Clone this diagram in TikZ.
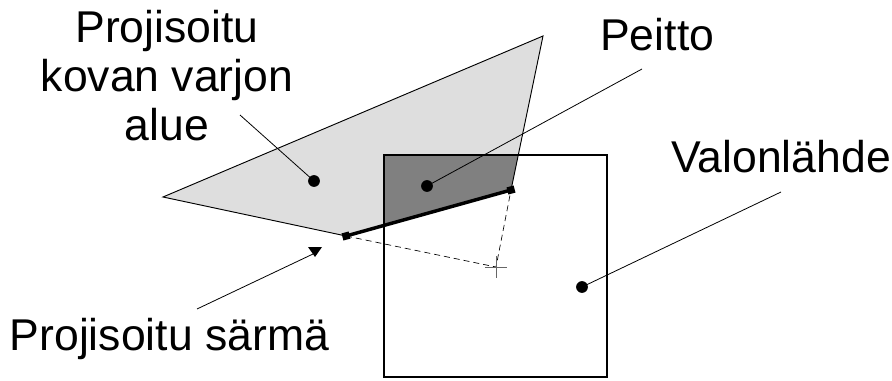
\documentclass[tikz,border=0pt]{standalone}
\usepackage{fontspec}
\setmainfont{Liberation Sans}
\usetikzlibrary{arrows.meta,positioning}

\begin{document}
\begin{tikzpicture}[x=0.75pt,y=-0.75pt,line join=miter,
  txt/.style={font=\fontsize{33.4}{37.1}\selectfont,inner sep=0pt},
  leader/.style={line width=.6pt},
  spot/.style={circle,fill=black,inner sep=0pt,minimum size=8.8pt},
  endmark/.style={rectangle,fill=black,inner sep=0pt,minimum size=5.5pt,rotate=15.6}]
\path[use as bounding box] (0,0) rectangle (892,381);
% projected hard shadow area
\coordinate (sL) at (163,197);
\coordinate (sT) at (543,36);
\coordinate (sR) at (511,190);
\coordinate (sB) at (346,236);
\coordinate (xc) at (496,267);
\fill[black!13] (sL) -- (sT) -- (sR) -- (sB) -- cycle;
% overlap with the light source
\fill[black!50] (384,155) -- (518.3,155) -- (sR) -- (384,225.4) -- cycle;
\draw[line width=.7pt] (sB) -- (sL) -- (sT) -- (sR);
% light source
\draw[line width=1.1pt] (384,155) rectangle (607,377);
% projected edge
\draw[dash pattern=on 4.5pt off 3pt,line width=.5pt] (sB) -- (xc) -- (sR);
\draw[black!60,line width=.7pt] (485,267) -- (507,267) (496,256) -- (496,278);
\draw[line width=2.6pt] (sB) -- (sR);
\node[endmark] (bmark) at (sB) {};
\node[endmark] (rmark) at (sR) {};
% labels
\node[txt,align=center,anchor=base] (shadowlbl) at (167,141) {Projisoitu\\kovan varjon\\alue};
\node[txt,anchor=base west] (peittolbl) at (600,51) {Peitto};
\node[txt,anchor=base west] (lightlbl) at (671,173) {Valonlähde};
\node[txt,anchor=base west] (edgelbl) at (9.5,350) {Projisoitu särmä};
% leaders
\node[spot] (shadowdot) at (314,181) {};
\node[spot] (peittodot) at (427,186) {};
\node[spot] (lightdot) at (582,287) {};
\coordinate (shadowend) at (240,115);
\coordinate (peittoend) at (642,69);
\coordinate (lightend) at (781,192);
\coordinate (edgestart) at (197,309);
\coordinate (edgetip) at (313,254);
\draw[leader] (shadowdot.center) -- (shadowend);
\draw[leader] (peittodot.center) -- (peittoend);
\draw[leader] (lightdot.center) -- (lightend);
\draw[leader] (edgestart) -- (edgetip);
\fill (308,247) -- (322,247) -- (315,257) -- cycle;
\end{tikzpicture}
\end{document}
